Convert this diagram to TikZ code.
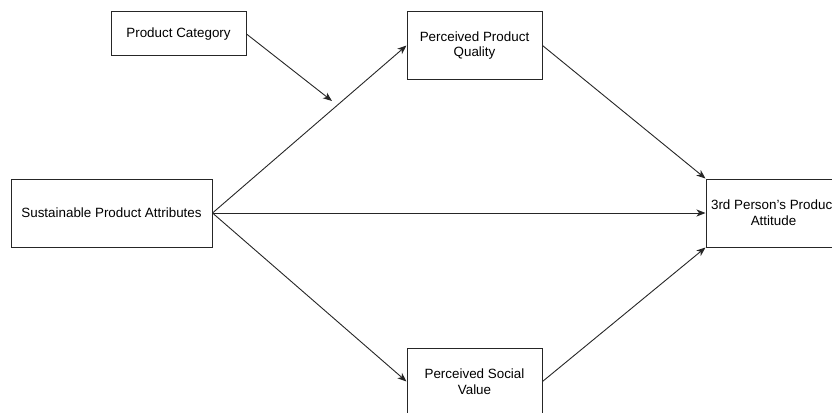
\documentclass[tikz,border=0pt]{standalone}
\usepackage{fontspec}
\setmainfont{Liberation Sans}
\usetikzlibrary{arrows.meta}
\begin{document}
\begin{tikzpicture}[x=1pt,y=-1pt,
  box/.style={draw=black!85,line width=1pt,fill=white,inner sep=0pt,align=center,
    font=\fontsize{13.4}{15.6}\selectfont},
  link/.style={draw=black!85,line width=0.9pt,-{Stealth[length=9pt,width=7pt,inset=2.5pt]}}]
  \useasboundingbox (0,0) rectangle (832,412);
  \begin{scope}
  \clip (0,0) rectangle (832,412);
  % boxes
  \node[box,minimum width=135pt,minimum height=44pt] (cat) at (178.5,34) {Product Category};
  \node[box,minimum width=135pt,minimum height=67pt] (ppq) at (474.5,45.5) {Perceived Product\\Quality};
  \node[box,minimum width=201pt,minimum height=68pt] (spa) at (111.5,213) {Sustainable Product Attributes};
  \node[box,minimum width=135pt,minimum height=68pt] (att) at (773.5,213) {3rd Person's Product\\Attitude};
  \node[box,minimum width=135pt,minimum height=67pt] (psv) at (474.5,381.5) {Perceived Social\\Value};
  % moderation target on the quality path
  \coordinate (mod) at (332,101);
  % connectors
  \draw[link] (spa.east) -- (ppq.west);
  \draw[link] (spa.east) -- (psv.west);
  \draw[link] (spa.east) -- (att.west);
  \draw[link] (ppq.east) -- (att.north west);
  \draw[link] (psv.east) -- (att.south west);
  \draw[link] (cat.east) -- (mod);
  \end{scope}
\end{tikzpicture}
\end{document}
